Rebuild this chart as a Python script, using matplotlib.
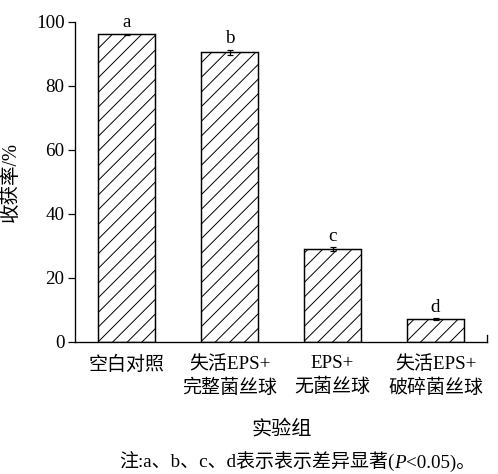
import matplotlib
matplotlib.use("Agg")
import matplotlib.pyplot as plt
from matplotlib.offsetbox import TextArea, HPacker, AnnotationBbox

FAM = ['Liberation Serif', 'Noto Sans CJK SC']
plt.rcParams['font.family'] = FAM
plt.rcParams['hatch.linewidth'] = 0.8
plt.rcParams['axes.unicode_minus'] = False

categories = ['空白对照', '失活EPS+\n完整菌丝球', 'EPS+\n无菌丝球', '失活EPS+\n破碎菌丝球']
values = [96.1, 90.5, 29.0, 7.1]
errors = [0.3, 0.9, 0.7, 0.3]
letters = ['a', 'b', 'c', 'd']
yticks = [0, 20, 40, 60, 80, 100]

DPI = 88
W, H = 498, 474
fig = plt.figure(figsize=(W / DPI, H / DPI), dpi=DPI)
ax = fig.add_axes([75 / W, 1 - 342 / H, 412 / W, 320 / H])

FS = 15.5
x = list(range(len(categories)))
ax.bar(x, values, width=0.553, color='white', edgecolor='black',
       linewidth=1.2, hatch='//', zorder=2)
ax.errorbar(x, values, yerr=errors, fmt='none', ecolor='black',
            elinewidth=1.0, capsize=2.5, capthick=1.0, zorder=3)
for xi, v, e, l in zip(x, values, errors, letters):
    ax.annotate(l, (xi, v + e), xytext=(0, 2), textcoords='offset points',
                ha='center', va='bottom', fontsize=FS)

ax.set_xlim(-0.5, 3.5)
ax.set_ylim(0, 100)
ax.set_yticks(yticks)
ax.set_yticklabels([str(t) for t in yticks], fontsize=FS)
ax.set_xticks(x)
ax.set_xticklabels(categories, fontsize=FS, linespacing=1.35)
ax.tick_params(axis='x', length=0, pad=11)
ax.tick_params(axis='y', direction='out', length=5.5, width=1.0, pad=3)
ax.spines['top'].set_visible(False)
ax.spines['right'].set_bounds(0, 2.2)
for s in ['left', 'bottom', 'right']:
    ax.spines[s].set_linewidth(1.1)

ax.set_ylabel('收获率/%', fontsize=FS + 0.5)
ax.yaxis.set_label_coords((21 - 75) / 412, 0.5)

fig.text(282 / W, 1 - 430 / H, '实验组', ha='center', va='center', fontsize=16.5)

note_fs = 15.5
parts = [
    TextArea('注:a、b、c、d表示表示差异显著(', textprops=dict(fontsize=note_fs, family=FAM)),
    TextArea('P', textprops=dict(fontsize=note_fs, family=FAM, style='italic')),
    TextArea('<0.05)。', textprops=dict(fontsize=note_fs, family=FAM)),
]
box = HPacker(children=parts, align='baseline', pad=0, sep=0)
ab = AnnotationBbox(box, (297 / W, 1 - 462 / H), xycoords='figure fraction',
                    frameon=False, box_alignment=(0.5, 0.5), pad=0)
fig.add_artist(ab)

fig.savefig('out.png', dpi=DPI)
